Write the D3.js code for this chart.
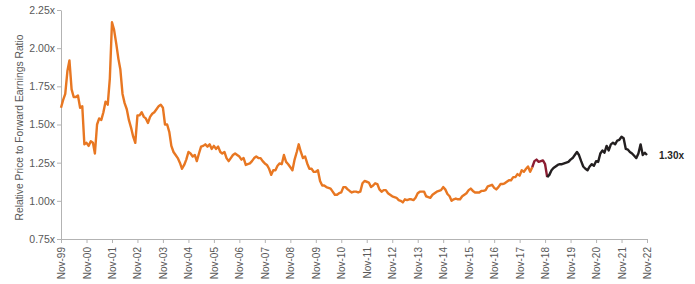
<!DOCTYPE html>
<html>
<head>
<meta charset="utf-8">
<script src="https://cdn.jsdelivr.net/npm/d3@7"></script>
<style>
  body { margin: 0; background: #fff; }
  svg { display: block; font-family: "Liberation Sans", Arial, sans-serif; }
</style>
</head>
<body>
<svg id="chart" width="695" height="284"></svg>
<script>
// monthly ratio, Nov-99 .. Nov-22
const startMonth = "1999-11";
const ratio = [
  1.61, 1.66, 1.70, 1.85, 1.92, 1.73, 1.68, 1.68, 1.69, 1.61, 1.62, 1.37,
  1.38, 1.36, 1.39, 1.38, 1.31, 1.50, 1.54, 1.53, 1.58, 1.65, 1.63, 1.80,
  2.17, 2.12, 2.03, 1.93, 1.86, 1.70, 1.64, 1.60, 1.53, 1.48, 1.42, 1.38,
  1.56, 1.56, 1.58, 1.55, 1.54, 1.51, 1.55, 1.57, 1.58, 1.60, 1.62, 1.63,
  1.61, 1.50, 1.50, 1.45, 1.36, 1.32, 1.30, 1.28, 1.25, 1.21, 1.235, 1.27,
  1.32, 1.31, 1.29, 1.30, 1.26, 1.31, 1.355, 1.36, 1.37, 1.355, 1.37, 1.34,
  1.36, 1.34, 1.355, 1.32, 1.31, 1.32, 1.28, 1.26, 1.28, 1.30, 1.31, 1.30,
  1.29, 1.27, 1.28, 1.235, 1.24, 1.245, 1.26, 1.28, 1.29, 1.28, 1.28, 1.26,
  1.245, 1.235, 1.21, 1.17, 1.20, 1.20, 1.23, 1.245, 1.24, 1.30, 1.255, 1.24,
  1.22, 1.20, 1.27, 1.32, 1.37, 1.32, 1.28, 1.29, 1.245, 1.21, 1.21, 1.19,
  1.19, 1.20, 1.13, 1.10, 1.10, 1.09, 1.085, 1.08, 1.06, 1.04, 1.04, 1.05,
  1.055, 1.09, 1.09, 1.075, 1.065, 1.055, 1.06, 1.06, 1.055, 1.06, 1.115, 1.13,
  1.125, 1.12, 1.09, 1.10, 1.115, 1.11, 1.075, 1.06, 1.07, 1.07, 1.05, 1.04,
  1.03, 1.025, 1.02, 1.005, 1.00, 0.99, 1.01, 1.005, 1.01, 1.01, 1.005, 1.02,
  1.05, 1.06, 1.06, 1.06, 1.03, 1.025, 1.02, 1.04, 1.05, 1.06, 1.065, 1.07,
  1.09, 1.075, 1.045, 1.03, 1.00, 1.01, 1.015, 1.01, 1.01, 1.03, 1.04, 1.05,
  1.07, 1.08, 1.065, 1.055, 1.055, 1.055, 1.065, 1.065, 1.07, 1.095, 1.10, 1.105,
  1.085, 1.075, 1.09, 1.11, 1.11, 1.115, 1.125, 1.135, 1.135, 1.155, 1.155, 1.175,
  1.165, 1.20, 1.19, 1.21, 1.225, 1.19, 1.22, 1.26, 1.27, 1.255, 1.26, 1.265,
  1.24, 1.155, 1.17, 1.20, 1.215, 1.225, 1.235, 1.24, 1.24, 1.245, 1.25, 1.255,
  1.27, 1.28, 1.30, 1.32, 1.30, 1.26, 1.225, 1.21, 1.20, 1.225, 1.24, 1.23,
  1.26, 1.255, 1.31, 1.33, 1.315, 1.36, 1.33, 1.37, 1.38, 1.37, 1.395, 1.40,
  1.42, 1.41, 1.34, 1.335, 1.32, 1.31, 1.295, 1.28, 1.31, 1.37, 1.30, 1.315,
  1.30
];
// colour periods of the line
const periodBreaks = ["1999-11", "2018-05", "2018-12", "2022-11"];
const yTicks = [0.75, 1.00, 1.25, 1.50, 1.75, 2.00, 2.25];
const lastLabel = "1.30x";
const yTitle = "Relative Price to Forward Earnings Ratio";

const parseMonth = d3.timeParse("%Y-%m");
const start = parseMonth(startMonth);
const series = ratio.map((v, i) => ({ date: d3.timeMonth.offset(start, i), value: v }));
const breaks = periodBreaks.map(parseMonth);
const colors = ["#E87722", "#8C1D32", "#231F20"];

const svg = d3.select("#chart");
const margin = { top: 10, right: 48, bottom: 45, left: 61 };
const width = 695, height = 284;

const x = d3.scaleTime()
  .domain([start, breaks[breaks.length - 1]])
  .range([margin.left, width - margin.right]);
const y = d3.scaleLinear()
  .domain([0.75, 2.25])
  .range([height - margin.bottom, margin.top]);

// x axis
const xTicks = d3.range(0, 24).map(k => d3.timeYear.offset(start, k));
const xAxis = svg.append("g")
  .attr("transform", `translate(0,${height - margin.bottom})`)
  .call(d3.axisBottom(x).tickValues(xTicks).tickFormat(d3.timeFormat("%b-%y")).tickSize(4).tickSizeOuter(0));
xAxis.selectAll("text")
  .attr("transform", "rotate(-90)")
  .attr("text-anchor", "end")
  .attr("x", -8)
  .attr("y", 0)
  .attr("dy", "0.35em");

// y axis
const yAxis = svg.append("g")
  .attr("transform", `translate(${margin.left},0)`)
  .call(d3.axisLeft(y).tickValues(yTicks).tickFormat(d => d3.format(".2f")(d) + "x").tickSize(4).tickSizeOuter(0));

svg.selectAll(".domain, .tick line").attr("stroke", "#b3b3b3");
svg.selectAll(".tick text").attr("fill", "#595959").attr("font-size", 10);
yAxis.selectAll("text").attr("font-size", 10.5).attr("x", -6);

svg.append("text")
  .attr("transform", `translate(19,${(y(0.75) + y(2.25)) / 2 + 3}) rotate(-90)`)
  .attr("text-anchor", "middle")
  .attr("dy", "0.35em")
  .attr("font-size", 10.3)
  .attr("fill", "#595959")
  .text(yTitle);

// line, split into coloured periods
const line = d3.line().x(d => x(d.date)).y(d => y(d.value));
colors.forEach((c, i) => {
  const seg = series.filter(d => d.date >= breaks[i] && d.date <= breaks[i + 1]);
  svg.append("path")
    .datum(seg)
    .attr("fill", "none")
    .attr("stroke", c)
    .attr("stroke-width", 2.4)
    .attr("stroke-linejoin", "round")
    .attr("d", line);
});

const last = series[series.length - 1];
svg.append("text")
  .attr("x", x(last.date) + 12)
  .attr("y", y(last.value))
  .attr("dy", "0.35em")
  .attr("font-size", 10)
  .attr("font-weight", "bold")
  .attr("fill", "#262626")
  .text(lastLabel);
</script>
</body>
</html>
